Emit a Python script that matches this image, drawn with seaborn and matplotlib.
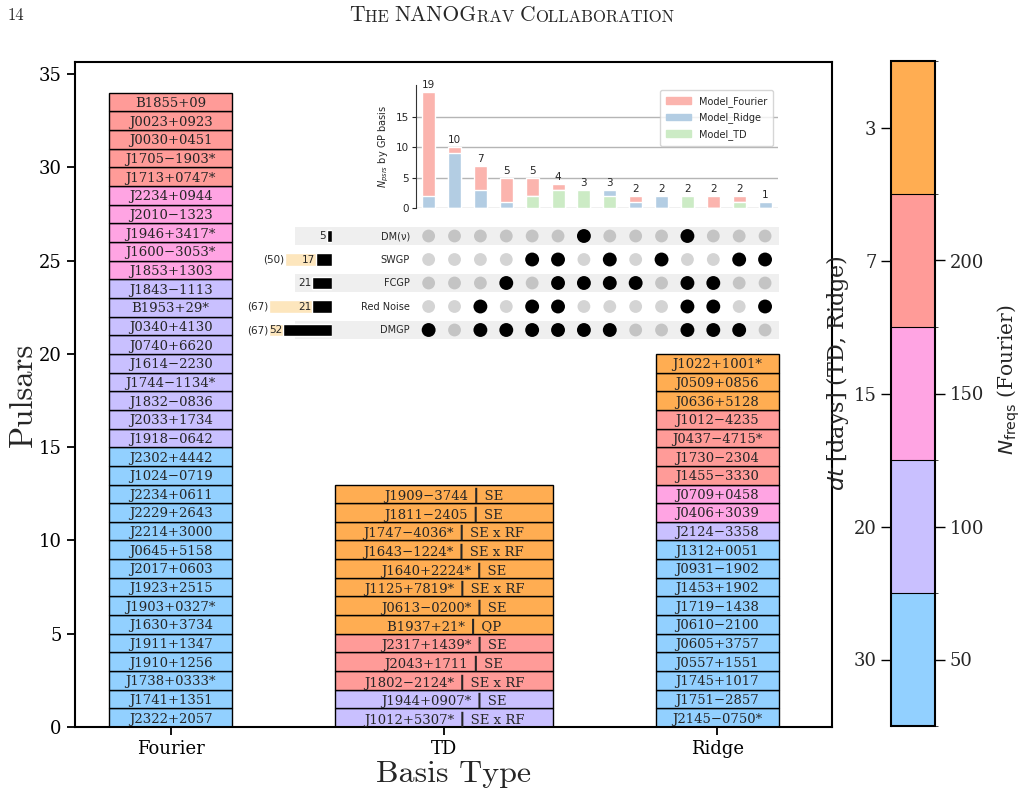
import numpy as np
import pandas as pd
import matplotlib
matplotlib.use('Agg')
import matplotlib.pyplot as plt
import seaborn as sns
from matplotlib.colors import ListedColormap, BoundaryNorm
from matplotlib.cm import ScalarMappable
from matplotlib.patches import Rectangle, Patch

sns.set_style('ticks')
plt.rcParams['font.family'] = ['DejaVu Serif', 'DejaVu Sans']
plt.rcParams['mathtext.fontset'] = 'dejavusans'

# ---------------- data ----------------
basis_types = ['Fourier', 'TD', 'Ridge']

fourier_psrs = ['J2322+2057', 'J1741+1351', 'J1738+0333*', 'J1910+1256', 'J1911+1347',
                'J1630+3734', 'J1903+0327*', 'J1923+2515', 'J2017+0603', 'J0645+5158',
                'J2214+3000', 'J2229+2643', 'J2234+0611', 'J1024−0719', 'J2302+4442',
                'J1918−0642', 'J2033+1734', 'J1832−0836', 'J1744−1134*', 'J1614−2230',
                'J0740+6620', 'J0340+4130', 'B1953+29*', 'J1843−1113',
                'J1853+1303', 'J1600−3053*', 'J1946+3417*', 'J2010−1323', 'J2234+0944',
                'J1713+0747*', 'J1705−1903*', 'J0030+0451', 'J0023+0923', 'B1855+09']
fourier_nfreqs = [50, 50, 50, 50, 50, 50, 50, 50, 50, 50, 50, 50, 50, 50, 50,
                  100, 100, 100, 100, 100, 100, 100, 100, 100,
                  150, 150, 150, 150, 150,
                  200, 200, 200, 200, 200]

td_psrs = ['J1012+5307*', 'J1944+0907*', 'J1802−2124*', 'J2043+1711', 'J2317+1439*',
           'B1937+21*', 'J0613−0200*', 'J1125+7819*', 'J1640+2224*', 'J1643−1224*',
           'J1747−4036*', 'J1811−2405', 'J1909−3744']
td_kernels = ['SE x RF', 'SE', 'SE x RF', 'SE', 'SE', 'QP', 'SE', 'SE x RF', 'SE',
              'SE x RF', 'SE x RF', 'SE', 'SE']
td_dt = [20, 20, 7, 7, 7, 3, 3, 3, 3, 3, 3, 3, 3]

ridge_psrs = ['J2145−0750*', 'J1751−2857', 'J1745+1017', 'J0557+1551', 'J0605+3757',
              'J0610−2100', 'J1719−1438', 'J1453+1902', 'J0931−1902', 'J1312+0051',
              'J2124−3358', 'J0406+3039', 'J0709+0458', 'J1455−3330', 'J1730−2304',
              'J0437−4715*', 'J1012−4235', 'J0636+5128', 'J0509+0856', 'J1022+1001*']
ridge_dt = [30, 30, 30, 30, 30, 30, 30, 30, 30, 30, 20, 15, 15, 7, 7, 7, 7, 3, 3, 3]

level_colors = ['#92d0ff', '#c9c0ff', '#ffa4e3', '#ff9b98', '#ffad52']
nfreq_levels = [50, 100, 150, 200, 250]
nfreq_ticklabels = ['50', '100', '150', '200', '']
dt_levels = [30, 20, 15, 7, 3]

# inset (UpSet-style) data
model_fourier = [17, 1, 4, 4, 3, 1, 0, 0, 1, 0, 0, 2, 1, 0]
model_ridge = [2, 9, 3, 1, 0, 0, 0, 1, 1, 2, 0, 0, 0, 1]
model_td = [0, 0, 0, 0, 2, 3, 3, 2, 0, 0, 2, 0, 1, 0]
model_colors = {'Model_Fourier': '#fbb4ae', 'Model_Ridge': '#b3cde3', 'Model_TD': '#ccebc5'}

features = ['DM(ν)', 'SWGP', 'FCGP', 'Red Noise', 'DMGP']  # top -> bottom
membership = [
    [0, 0, 0, 0, 0, 0, 1, 0, 0, 0, 1, 0, 0, 0],
    [0, 0, 0, 0, 1, 1, 0, 1, 0, 1, 0, 0, 1, 1],
    [0, 0, 0, 1, 0, 1, 1, 1, 1, 0, 1, 1, 0, 0],
    [0, 0, 1, 0, 1, 1, 0, 0, 0, 0, 1, 1, 0, 1],
    [1, 0, 1, 1, 1, 1, 1, 1, 0, 0, 1, 1, 1, 0],
]
feature_counts = [5, 17, 21, 21, 52]
feature_totals = [None, 50, None, 67, 67]

# ---------------- figure ----------------
W, H = 1020, 797
fig = plt.figure(figsize=(W / 100, H / 100), dpi=100)

def fr(l, t, r, b):
    return [l / W, 1 - b / H, (r - l) / W, (b - t) / H]

ax = fig.add_axes(fr(75, 62, 832, 727))

nf_to_col = dict(zip(nfreq_levels, level_colors))
dt_to_col = dict(zip(dt_levels, level_colors))

stacks = [
    (fourier_psrs, [nf_to_col[v] for v in fourier_nfreqs], 0.45),
    ([f"{n} ┃ {k}" for n, k in zip(td_psrs, td_kernels)], [dt_to_col[v] for v in td_dt], 0.8),
    (ridge_psrs, [dt_to_col[v] for v in ridge_dt], 0.45),
]
for xi, (names, cols, wd) in enumerate(stacks):
    ax.bar([xi] * len(names), [1] * len(names), bottom=np.arange(len(names)), width=wd,
           color=cols, edgecolor='black', linewidth=1.0, zorder=2)
    for i, n in enumerate(names):
        ax.text(xi, i + 0.5, n, ha='center', va='center_baseline', fontsize=9.5,
                family=['DejaVu Serif', 'DejaVu Sans'], zorder=3)

ax.set_xlim(-0.35, 2.42)
ax.set_ylim(0, 35.65)
ax.set_xticks([0, 1, 2], basis_types)
ax.set_yticks([0, 5, 10, 15, 20, 25, 30, 35])
ax.tick_params(labelsize=13, length=6, width=1.3, color='black', labelcolor='black')
for s in ax.spines.values():
    s.set_linewidth(1.5)
    s.set_color('black')
ax.set_ylabel('Pulsars', fontsize=23.5, family='cmr10', labelpad=1)
ax.set_xlabel('Basis Type', fontsize=23, family='cmr10', labelpad=2)

# ---------------- colorbar ----------------
cax = fig.add_axes(fr(891, 61, 935, 726))
cmap = ListedColormap(level_colors)
bounds = [25, 75, 125, 175, 225, 275]
norm = BoundaryNorm(bounds, cmap.N)
cb = fig.colorbar(ScalarMappable(norm=norm, cmap=cmap), cax=cax, drawedges=True)
cb.set_ticks(nfreq_levels[:4], labels=nfreq_ticklabels[:4])
cb.outline.set_linewidth(1.5)
cb.outline.set_edgecolor('black')
cb.dividers.set_linewidth(0.8)
cb.dividers.set_color('black')
cax.tick_params(labelsize=13, length=7, width=1, color='black')
cb.set_label(r'$N_{\rm freqs}$ (Fourier)', fontsize=14.5, labelpad=8)
cax.yaxis.label.set_y(0.52)
sec = cax.secondary_yaxis('left')
sec.set_yticks(nfreq_levels, labels=[str(d) for d in dt_levels])
sec.tick_params(labelsize=13, length=7, width=1, color='black')
sec.set_ylabel(r'$dt$ [days] (TD, Ridge)', fontsize=16, labelpad=2)
sec.yaxis.label.set_y(0.53)

# ---------------- inset bar chart ----------------
axb = fig.add_axes(fr(415.7, 85, 778, 208.3))
df = pd.DataFrame({'col': np.arange(14), 'Fourier': model_fourier,
                   'Ridge': model_ridge, 'TD': model_td})
df['top'] = df['Fourier'] + df['Ridge'] + df['TD']
df['mid'] = df['Ridge'] + df['TD']
for ycol, c in [('top', model_colors['Model_Fourier']), ('mid', model_colors['Model_Ridge']),
                ('TD', model_colors['Model_TD'])]:
    sns.barplot(data=df, x='col', y=ycol, color=c, saturation=1, width=0.5,
                errorbar=None, ax=axb, zorder=2)
for i, t in enumerate(df['top']):
    axb.text(i, t + 0.3, str(t), ha='center', va='bottom', fontsize=7.5, family='DejaVu Sans')
axb.set_xlim(-0.5, 13.5)
axb.set_ylim(0, 20.2)
axb.set_xticks([])
axb.set_yticks([0, 5, 10, 15])
axb.set_xlabel('')
axb.set_ylabel(r'$N_{psrs}$ by GP basis', fontsize=7, family='DejaVu Sans', labelpad=3)
axb.yaxis.grid(True, color='#b5b5b5', lw=1)
axb.set_axisbelow(True)
for s in ['top', 'right', 'bottom']:
    axb.spines[s].set_visible(False)
axb.spines['left'].set_color('#333333')
axb.spines['left'].set_linewidth(0.8)
axb.patch.set_alpha(0)
axb.tick_params(axis='y', labelsize=7.5, length=3, width=0.8, pad=2)
for lab in axb.get_yticklabels():
    lab.set_family('DejaVu Sans')
axb.legend(handles=[Patch(color=c, label=l) for l, c in model_colors.items()],
           loc='upper right', frameon=True, edgecolor='#cccccc',
           prop={'family': 'DejaVu Sans', 'size': 7}, handlelength=2.6, borderpad=0.6,
           labelspacing=0.6, bbox_to_anchor=(1.0, 1.0))

# ---------------- inset matrix ----------------
axm = fig.add_axes(fr(415.7, 224.25, 778, 341.75))
nrows = len(features)
rows_y = [nrows - 1 - r for r in range(nrows)]
for r, yy in enumerate(rows_y):
    if r % 2 == 0:
        axm.add_patch(Rectangle((-5.15, yy - 0.4), 18.67, 0.8, color='#efefef',
                                clip_on=False, zorder=0, lw=0))
recs = []
for r, yy in enumerate(rows_y):
    for c in range(14):
        on = membership[r][c] == 1
        recs.append({'col': c, 'row': yy,
                     'state': 'on' if on else ('off_s' if r % 2 == 0 else 'off_w')})
dm = pd.DataFrame(recs)
sns.scatterplot(data=dm[dm.state == 'on'], x='col', y='row', color='black', s=100,
                edgecolor='none', ax=axm, zorder=3)
sns.scatterplot(data=dm[dm.state != 'on'], x='col', y='row', hue='state',
                palette={'off_s': '#c4c4c4', 'off_w': '#d4d4d4'}, s=85,
                edgecolor='none', legend=False, ax=axm, zorder=3)
axm.set_xlim(-0.5, 13.5)
axm.set_ylim(-0.5, 4.5)
axm.axis('off')
for r, yy in enumerate(rows_y):
    axm.text(-0.72, yy, features[r], ha='right', va='center', fontsize=7, family='DejaVu Sans')

# set-size bars
axs = fig.add_axes(fr(266, 224.25, 331.7, 341.75))
axs.set_xlim(70.6, 0)
axs.set_ylim(-0.5, 4.5)
axs.axis('off')
for r, yy in enumerate(rows_y):
    tot = feature_totals[r]
    cnt = feature_counts[r]
    if tot is not None:
        axs.barh(yy, tot, height=0.55, color='#fde6bd', zorder=1)
        axs.text(tot + 1.0, yy, f'({tot})', ha='right', va='center', fontsize=7.5,
                 family='DejaVu Sans', clip_on=False)
    axs.barh(yy, cnt, height=0.55, color='black', zorder=2)
    axs.text(cnt + 0.8, yy, str(cnt), ha='right', va='center', fontsize=7.5,
             family='DejaVu Sans', zorder=3)

# ---------------- header ----------------
fig.text(8 / W, 1 - 20 / H, '14', fontsize=12, family='cmr10', va='baseline')
pieces = [('T', 15.5), ('HE ', 12), ('NANOG', 15.5), ('RAV ', 12), ('C', 15.5), ('OLLABORATION', 12)]
t0 = fig.text(0.35, 1 - 21 / H, pieces[0][0], fontsize=pieces[0][1], family='cmr10', va='baseline')
prev = t0
for txt, fs in pieces[1:]:
    prev = ax.annotate(txt, xy=(1, 0), xycoords=prev, va='bottom', ha='left',
                       fontsize=fs, family='cmr10', annotation_clip=False)
fig.canvas.draw()
b0 = t0.get_window_extent()
b1 = prev.get_window_extent()
width = b1.x1 - b0.x0
t0.set_x((512 - width / 2) / W)

fig.savefig('out.png', dpi=100)
